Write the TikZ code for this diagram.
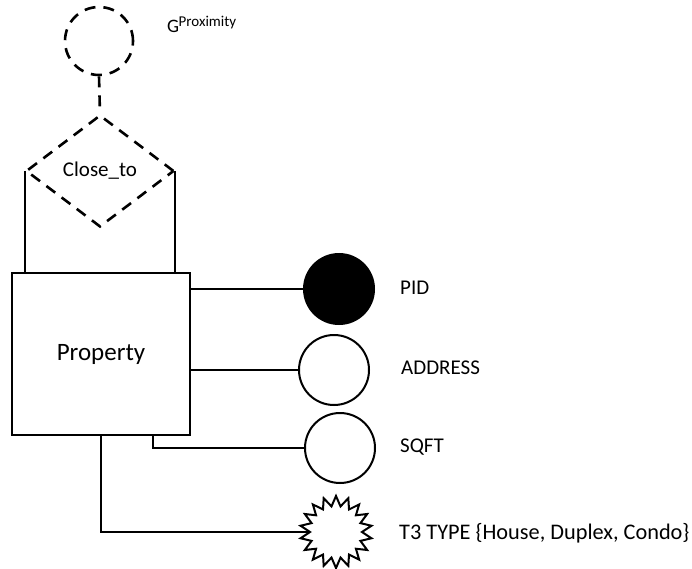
\documentclass[tikz,border=0pt]{standalone}
\usepackage{fontspec}
\setmainfont{Carlito}
\usetikzlibrary{shapes.geometric,shapes.symbols}
\begin{document}
\begin{tikzpicture}[x=1pt,y=-1pt,
  every node/.style={font=\fontsize{21}{24}\selectfont},
  solidline/.style={line width=1.8pt},
  dashline/.style={line width=2.6pt,dash pattern=on 11pt off 8pt},
  attr/.style={circle,draw,line width=2pt,minimum size=70pt,inner sep=0pt},
  lbl/.style={anchor=west,inner sep=0pt}]
\useasboundingbox (0,0) rectangle (692,569);

% grouping circle and relationship diamond
\node[circle,draw,dashline,minimum size=68pt,inner sep=0pt] (grp) at (99,41) {};
\node[lbl,anchor=base west,font=\fontsize{19}{21}\selectfont] (gname) at (167,33)
  {G\textsuperscript{\kern-0.5pt\fontsize{15}{15}\selectfont Proximity}};
\node[diamond,draw,dashline,minimum width=148pt,minimum height=112pt,inner sep=0pt,aspect=1.32] (rel) at (100,171) {Close\_to};
\draw[dashline] (grp.south) -- (rel.north);

% entity
\node[draw,solidline,minimum width=178pt,minimum height=162pt,inner sep=0pt,
      font=\fontsize{25}{28}\selectfont] (prop) at (101,354) {Property};
\draw[solidline] (rel.west) -- (rel.west |- prop.north);
\draw[solidline] (rel.east) -- (rel.east |- prop.north);

% attributes
\node[attr,fill=black] (pid) at (339,289) {};
\node[attr] (addr) at (334,370) {};
\node[attr] (sqft) at (340,448) {};
\node[starburst,draw,line width=2pt,starburst points=18,starburst point height=10pt,
      random starburst=0,minimum size=72pt,inner sep=0pt] (type) at (336,532) {};

\node[lbl] (pidl) at (400,288) {PID};
\node[lbl] (addrl) at (401,368) {ADDRESS};
\node[lbl] (sqftl) at (400,447) {SQFT};
\node[lbl,font=\fontsize{22.3}{25}\selectfont] (typel) at (399,533) {T3 TYPE \{House, Duplex, Condo\}};

% connectors
\draw[solidline] (prop.east |- pid.west) -- (pid.west);
\draw[solidline] (prop.east |- addr.west) -- (addr.west);
\draw[solidline] ([xshift=52pt]prop.south) |- (sqft.west);
\draw[solidline] (prop.south) |- (type.west);
\end{tikzpicture}
\end{document}
